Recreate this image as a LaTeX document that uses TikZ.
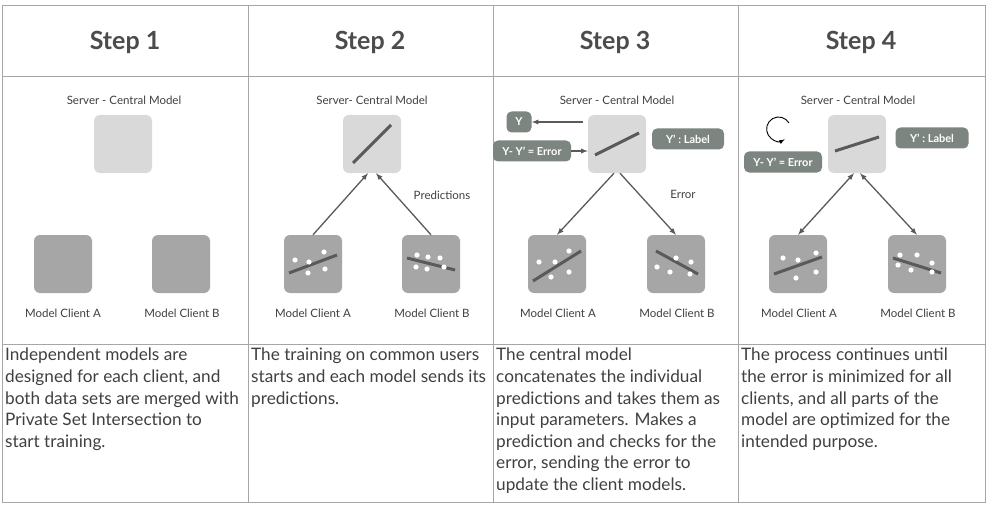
\documentclass[tikz,border=0pt]{standalone}
\usepackage{fontspec}
\setmainfont{Lato}
\usepackage[none]{hyphenat}
\usetikzlibrary{calc}
\definecolor{txt}{HTML}{404040}
\definecolor{tagc}{HTML}{7D8581}
\definecolor{linec}{HTML}{5A5A5A}
\begin{document}
\begin{tikzpicture}[x=1pt,y=-1pt,
    server/.style={rounded corners=6pt, fill=black!15, minimum size=58pt, inner sep=0pt},
    client/.style={rounded corners=6pt, fill=black!35, minimum size=58pt, inner sep=0pt},
    tag/.style={rounded corners=5pt, fill=tagc, text=white, font=\bfseries\fontsize{11}{13}\selectfont, inner sep=4pt, minimum height=21pt},
    lbl/.style={text=txt, font=\fontsize{11.5}{13}\selectfont},
    head/.style={text=black!70, font=\bfseries\fontsize{25}{28}\selectfont},
    desc/.style={text=txt, font=\fontsize{17.2}{21.6}\selectfont, align=left, anchor=north west, inner sep=0pt},
    arr/.style={draw=linec, line width=1.3pt, -latex},
    fit/.style={line width=3pt, linec}]
    \useasboundingbox (0,0) rectangle (988,508);
    \fill[white] (0,0) rectangle (988,508);
    % table
    \draw[black!35] (2,5) rectangle (985,502);
    \draw[black!35] (2,76) -- (985,76);
    \draw[black!35] (2,344) -- (985,344);
    \foreach \x in {248,493,738} \draw[black!35] (\x,5) -- (\x,502);
    \node[head] (h1) at (125,42) {Step 1};
    \node[head] (h2) at (370,42) {Step 2};
    \node[head] (h3) at (615,42) {Step 3};
    \node[head] (h4) at (861,42) {Step 4};

    % step 1
    \node[lbl] (s1l) at (124,100) {Server - Central Model};
    \node[server] (s1) at (123,144) {};
    \node[client] (a1) at (63,264) {};
    \node[client] (b1) at (181,264) {};
    \node[lbl] (a1l) at (63,313) {Model Client A};
    \node[lbl] (b1l) at (182,313) {Model Client B};

    % step 2
    \node[lbl] (s2l) at (372,100) {Server- Central Model};
    \node[server] (s2) at (372,144) {};
    \draw[fit] ($(s2)+(-19,19)$) -- ($(s2)+(19,-19)$);
    \node[client] (a2) at (313,264) {};
    \node[client] (b2) at (431,264) {};
    \draw[fit] ($(a2)+(-24,9)$) -- ($(a2)+(24,-9)$);
    \foreach \dx/\dy in {-18/-4, -5/9, -4/-2, 11/-12, 12/5} \fill[white] ($(a2)+(\dx,\dy)$) circle (2.6);
    \draw[fit] ($(b2)+(-24,-6)$) -- ($(b2)+(24,6)$);
    \foreach \dx/\dy in {-14/-9, -3/-7, 9/-6, -15/3, -4/5, 13/3} \fill[white] ($(b2)+(\dx,\dy)$) circle (2.6);
    \draw[arr] (a2.north) -- ($(s2.south)+(-4,0)$);
    \draw[arr] (b2.north) -- ($(s2.south)+(4,0)$);
    \node[lbl] (p2) at (442,195) {Predictions};
    \node[lbl] (a2l) at (313,313) {Model Client A};
    \node[lbl] (b2l) at (432,313) {Model Client B};

    % step 3
    \node[lbl] (s3l) at (617,100) {Server - Central Model};
    \node[server] (s3) at (617,144) {};
    \draw[fit] ($(s3)+(-22,11)$) -- ($(s3)+(22,-11)$);
    \node[tag, minimum width=25pt] (y3) at (519,122) {Y};
    \node[tag, minimum width=78pt] (e3) at (532,151) {Y- Y' = Error};
    \node[tag, minimum width=72pt] (t3) at (688,139) {Y' : Label};
    \coordinate (o3) at (583,122);
    \draw[arr] (o3) -- (y3.east);
    \draw[arr] (e3.east) -- ($(s3.west)+(0,7)$);
    \node[client] (a3) at (557,264) {};
    \node[client] (b3) at (676,264) {};
    \draw[fit] ($(a3)+(-24,17)$) -- ($(a3)+(24,-13)$);
    \foreach \dx/\dy in {-18/-2,-2/-2,12/-13,12/8,-6/13} \fill[white] ($(a3)+(\dx,\dy)$) circle (2.6);
    \draw[fit] ($(b3)+(-20,-13)$) -- ($(b3)+(22,10)$);
    \foreach \dx/\dy in {-19/3,-6/8,0/-6,15/-2,14/10} \fill[white] ($(b3)+(\dx,\dy)$) circle (2.6);
    \draw[arr] ($(s3.south)+(-3,0)$) -- (a3.north);
    \draw[arr] ($(s3.south)+(3,0)$) -- (b3.north);
    \node[lbl] (e3l) at (683,194) {Error};
    \node[lbl] (a3l) at (558,313) {Model Client A};
    \node[lbl] (b3l) at (677,313) {Model Client B};

    % step 4
    \node[lbl] (s4l) at (858,100) {Server - Central Model};
    \node[server] (s4) at (857,144) {};
    \draw[fit] ($(s4)+(-22,7)$) -- ($(s4)+(22,-7)$);
    \draw[line width=0.9pt, -latex] (789,123) arc (-30:-300:12);
    \node[tag, minimum width=78pt] (e4) at (783,162) {Y- Y' = Error};
    \node[tag, minimum width=73pt] (t4) at (932,138) {Y' : Label};
    \node[client] (a4) at (798,264) {};
    \node[client] (b4) at (917,264) {};
    \draw[fit] ($(a4)+(-24,10)$) -- ($(a4)+(24,-7)$);
    \foreach \dx/\dy in {-15/-6,0/-4,18/-11,18/8,-2/14} \fill[white] ($(a4)+(\dx,\dy)$) circle (2.6);
    \draw[fit] ($(b4)+(-24,-6)$) -- ($(b4)+(24,9)$);
    \foreach \dx/\dy in {-17/-9,0/-9,15/-1,-19/1,-6/6,15/8} \fill[white] ($(b4)+(\dx,\dy)$) circle (2.6);
    \draw[arr, latex-latex] ($(s4.south)+(-3,0)$) -- (a4.north);
    \draw[arr, latex-latex] ($(s4.south)+(3,0)$) -- (b4.north);
    \node[lbl] (a4l) at (799,313) {Model Client A};
    \node[lbl] (b4l) at (918,313) {Model Client B};

    % descriptions
    \node[desc] (d1) at (5,348) {Independent models are\\designed for each client, and\\both data sets are merged with\\Private Set Intersection to\\start training.};
    \node[desc] (d2) at (251,348) {The training on common users\\starts and each model sends its\\predictions.};
    \node[desc] (d3) at (496,348) {The central model\\concatenates the individual\\predictions and takes them as\\input parameters. Makes a\\prediction and checks for the\\error, sending the error to\\update the client models.};
    \node[desc] (d4) at (741,348) {The process continues until\\the error is minimized for all\\clients, and all parts of the\\model are optimized for the\\intended purpose.};
\end{tikzpicture}
\end{document}
